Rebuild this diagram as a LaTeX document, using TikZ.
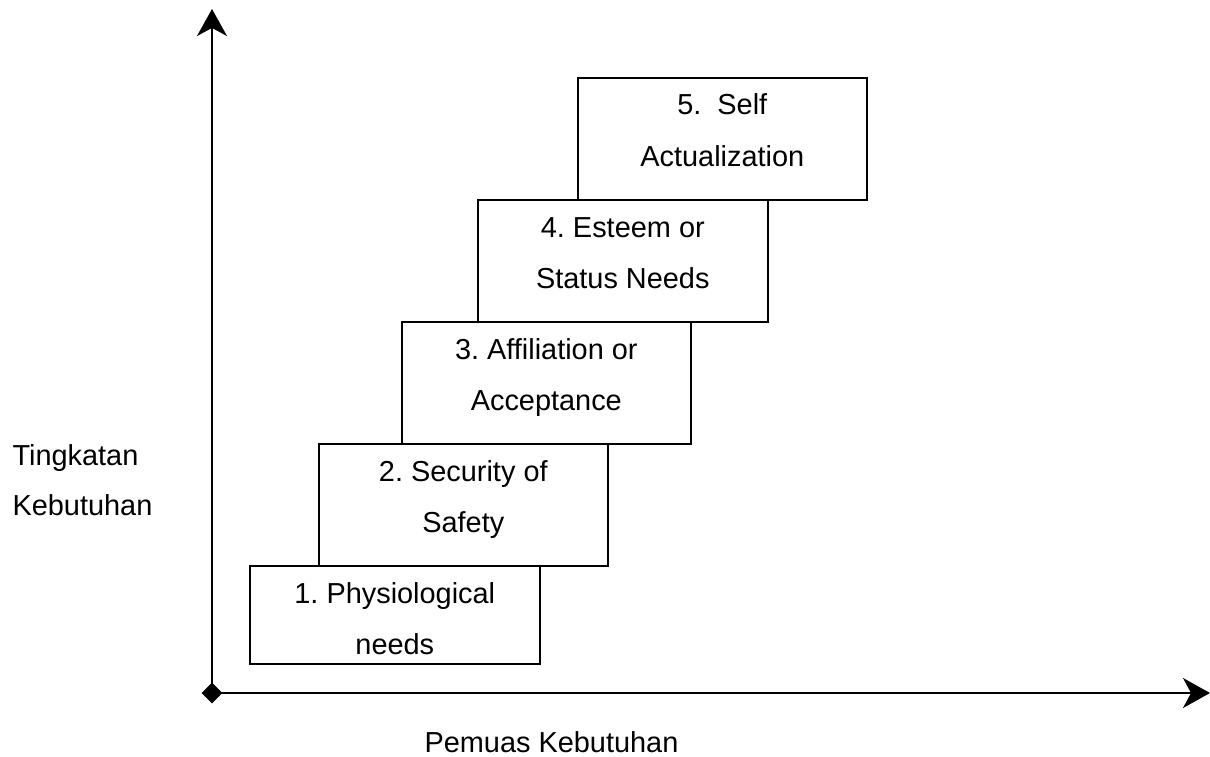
\documentclass[tikz,border=0pt]{standalone}
\usepackage{fontspec}
\setmainfont{Liberation Sans}
\usetikzlibrary{arrows.meta,shapes.geometric}
\frenchspacing

\begin{document}
\begin{tikzpicture}[x=1pt, y=-1pt,
		needbox/.style={draw, line width=1.6pt, inner sep=0pt, anchor=north west},
		needtext/.style={anchor=base, font=\fontsize{28.9}{51}\selectfont},
		axis/.style={line width=1.6pt, -{Stealth[length=27pt, width=30pt, inset=8pt]}}]
		\useasboundingbox (0,0) rectangle (1210,757);
		% the two axes
		\node[diamond, fill, inner sep=0pt, minimum width=21pt, minimum height=21pt] (O) at (212,693) {};
		\coordinate (ytop) at (212,9);
		\coordinate (xend) at (1210,693);
		\draw[axis] (O.center) -- (ytop);
		\draw[axis] (O.center) -- (xend);
		% steps of needs
		\foreach \n/\l/\t/\w/\h/\first/\second in {
			1/249/565/290/98/1. Physiological/needs,
			2/318/443/289/122/2. Security of/Safety,
			3/401/321/289/122/3. Affiliation or/Acceptance,
			4/477/199/290/122/4. Esteem or/Status Needs,
			5/577/77/289/122/5.~~Self/Actualization}
		{
			\node[needbox, minimum width=\w pt, minimum height=\h pt] (b\n) at (\l,\t) {};
			\node[needtext] (t\n) at ([yshift=-38pt]b\n.north) {\first};
			\node[needtext] (u\n) at ([yshift=-89pt]b\n.north) {\second};
		}
		% axis labels
		\node[needtext, anchor=base west] (tingkat) at (9,465) {Tingkatan};
		\node[needtext, anchor=base west] (kebutuh) at (9,515) {Kebutuhan};
		\node[needtext, anchor=base west] (pemuas) at (421,752) {Pemuas Kebutuhan};
	\end{tikzpicture}
\end{document}
